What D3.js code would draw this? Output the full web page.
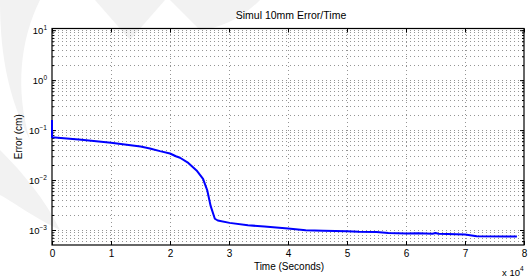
<!DOCTYPE html>
<html lang="en">
<head>
  <meta charset="UTF-8">
  <title>Simul 10mm Error/Time</title>
  <style>
    body { margin: 0; background: #fff; }
    svg { display: block; font-family: "Liberation Sans", Arial, Helvetica, sans-serif; }
  </style>
</head>
<body>
  <svg></svg>
  <script src="https://cdn.jsdelivr.net/npm/d3@7"></script>
  <script>
    // time in seconds, error in cm
    const times = [0, 0, 5000, 10000, 15000, 16600, 18300, 20000, 21000, 21700, 23100, 24500, 25600, 26300, 26900,
      27600, 28100, 30100, 33200, 36000, 40000, 43000, 46000, 50000, 52000, 55000, 57000, 60000, 62000,
      64500, 65000, 65500, 70000, 72000, 78800]
    const errors = [0.16, 0.072, 0.064, 0.056, 0.047, 0.043, 0.038, 0.034, 0.030, 0.028, 0.022, 0.0156, 0.0106, 0.0063, 0.0030,
      0.00168, 0.00155, 0.00139, 0.00124, 0.00118, 0.00107, 0.00099, 0.00097, 0.00094, 0.00092, 0.00091, 0.00087, 0.00085, 0.00086,
      0.00084, 0.00087, 0.00084, 0.00081, 0.00075, 0.00074]
    const xTicks = [0, 10000, 20000, 30000, 40000, 50000, 60000, 70000, 80000]
    const yTicks = [1e-3, 1e-2, 1e-1, 1, 10]

    const data = times.map((t, i) => ({t: t, e: errors[i]}))

    var width = 528
    var height = 277
    var mLeft = 52, mRight = 524, mTop = 28.5, mBottom = 245

    var svg = d3.select("svg")
              .attr("width", width)
              .attr("height", height)

    // faint watermark shapes in the background
    var wm = svg.append("g").attr("fill", "#f2f2f2")
    wm.append("path").attr("d", "M0,0 L40,0 C20,40 15,90 30,140 C10,100 0,60 0,0 Z")
    wm.append("path").attr("d", "M0,150 C25,175 45,200 60,230 C30,215 10,200 0,195 Z")
    wm.append("path").attr("d", "M95,0 L165,0 L130,40 Z")
    wm.append("path").attr("d", "M170,0 L260,0 C240,20 220,28 200,30 Z")

    var x = d3.scaleLinear()
            .domain([0, 80000])
            .range([mLeft, mRight])

    var y = d3.scaleLog()
            .domain([Math.pow(10, -3.3), Math.pow(10, 1.034)])
            .range([mBottom, mTop])

    // minor log values within the domain
    var minors = []
    for (let p = -4; p <= 1; p++) {
      for (let k = 1; k <= 9; k++) {
        let v = k * Math.pow(10, p)
        if (v >= y.domain()[0] && v <= y.domain()[1]) minors.push(v)
      }
    }

    var grid = svg.append("g")
      .attr("stroke", "#8a8a8a")
      .attr("stroke-width", 0.9)
      .attr("stroke-dasharray", "1,3")
      .attr("shape-rendering", "crispEdges")

    grid.selectAll("line.h")
      .data(minors)
      .join("line")
      .attr("class", "h")
      .attr("x1", mLeft + 2)
      .attr("x2", mRight - 1)
      .attr("y1", d => Math.round(y(d)) + 0.5)
      .attr("y2", d => Math.round(y(d)) + 0.5)

    grid.selectAll("line.v")
      .data(xTicks.slice(1, -1))
      .join("line")
      .attr("class", "v")
      .attr("x1", d => Math.round(x(d)) + 0.5)
      .attr("x2", d => Math.round(x(d)) + 0.5)
      .attr("y1", mTop + 1)
      .attr("y2", mBottom)

    // box
    svg.append("rect")
      .attr("x", mLeft)
      .attr("y", mTop)
      .attr("width", mRight - mLeft)
      .attr("height", mBottom - mTop)
      .attr("fill", "none")
      .attr("stroke", "#000")
      .attr("stroke-width", 1.2)

    // axes with inward ticks
    var xb = svg.append("g")
      .attr("transform", `translate(0, ${mBottom})`)
      .call(d3.axisBottom(x).tickValues(xTicks).tickSizeInner(-4).tickSizeOuter(0).tickPadding(5)
        .tickFormat(d => d / 10000))
    svg.append("g")
      .attr("transform", `translate(0, ${mTop})`)
      .call(d3.axisTop(x).tickValues(xTicks).tickSizeInner(-4).tickSizeOuter(0).tickFormat(""))

    svg.append("g")
      .attr("transform", `translate(${mLeft}, 0)`)
      .call(d3.axisLeft(y).tickValues(yTicks).tickSizeInner(-4).tickSizeOuter(0).tickFormat(""))
    svg.append("g")
      .attr("transform", `translate(${mRight}, 0)`)
      .call(d3.axisRight(y).tickValues(yTicks).tickSizeInner(-4).tickSizeOuter(0).tickFormat(""))

    // minor y ticks
    svg.append("g")
      .attr("transform", `translate(${mLeft}, 0)`)
      .call(d3.axisLeft(y).tickValues(minors).tickSizeInner(-2).tickSizeOuter(0).tickFormat(""))
    svg.append("g")
      .attr("transform", `translate(${mRight}, 0)`)
      .call(d3.axisRight(y).tickValues(minors).tickSizeInner(-2).tickSizeOuter(0).tickFormat(""))

    svg.selectAll(".domain").remove()
    svg.selectAll(".tick line").attr("stroke", "#000")
    xb.selectAll("text").attr("font-size", 10).attr("font-family", "Liberation Sans, Arial, sans-serif").attr("fill", "#000")

    // curve drawn over the frame, like the original
    var line = d3.line()
      .x(d => x(d.t))
      .y(d => y(d.e))

    svg.append("path")
      .datum(data)
      .attr("fill", "none")
      .attr("stroke", "#0000ff")
      .attr("stroke-width", 2)
      .attr("stroke-linejoin", "round")
      .attr("d", line)

    // power-of-ten labels
    var ylab = svg.append("g")
      .attr("font-size", 9.5)
      .attr("text-anchor", "end")
    ylab.selectAll("text")
      .data(yTicks)
      .join("text")
      .attr("x", 47)
      .attr("y", d => y(d) + 4)
      .each(function(d) {
        var t = d3.select(this)
        t.append("tspan").text("10")
        t.append("tspan")
          .attr("dy", -4.5)
          .attr("font-size", 6.5)
          .text(Math.round(Math.log10(d)) === 0 ? "0" : Math.round(Math.log10(d)).toString().replace("-", "\u2212"))
      })

    svg.append("text")
      .attr("x", (mLeft + mRight) / 2 + 3)
      .attr("y", 19)
      .attr("text-anchor", "middle")
      .attr("font-size", 10.5)
      .text("Simul 10mm Error/Time")

    svg.append("text")
      .attr("x", (mLeft + mRight) / 2 + 1)
      .attr("y", 270)
      .attr("text-anchor", "middle")
      .attr("font-size", 10)
      .text("Time (Seconds)")

    svg.append("text")
      .attr("transform", `translate(22, ${(mTop + mBottom) / 2}) rotate(-90)`)
      .attr("text-anchor", "middle")
      .attr("font-size", 10)
      .text("Error (cm)")

    var sci = svg.append("text")
      .attr("x", 502)
      .attr("y", 276)
      .attr("font-size", 9.5)
    sci.append("tspan").text("x 10")
    sci.append("tspan").attr("dy", -5).attr("font-size", 6.5).text("4")
  </script>
</body>
</html>
